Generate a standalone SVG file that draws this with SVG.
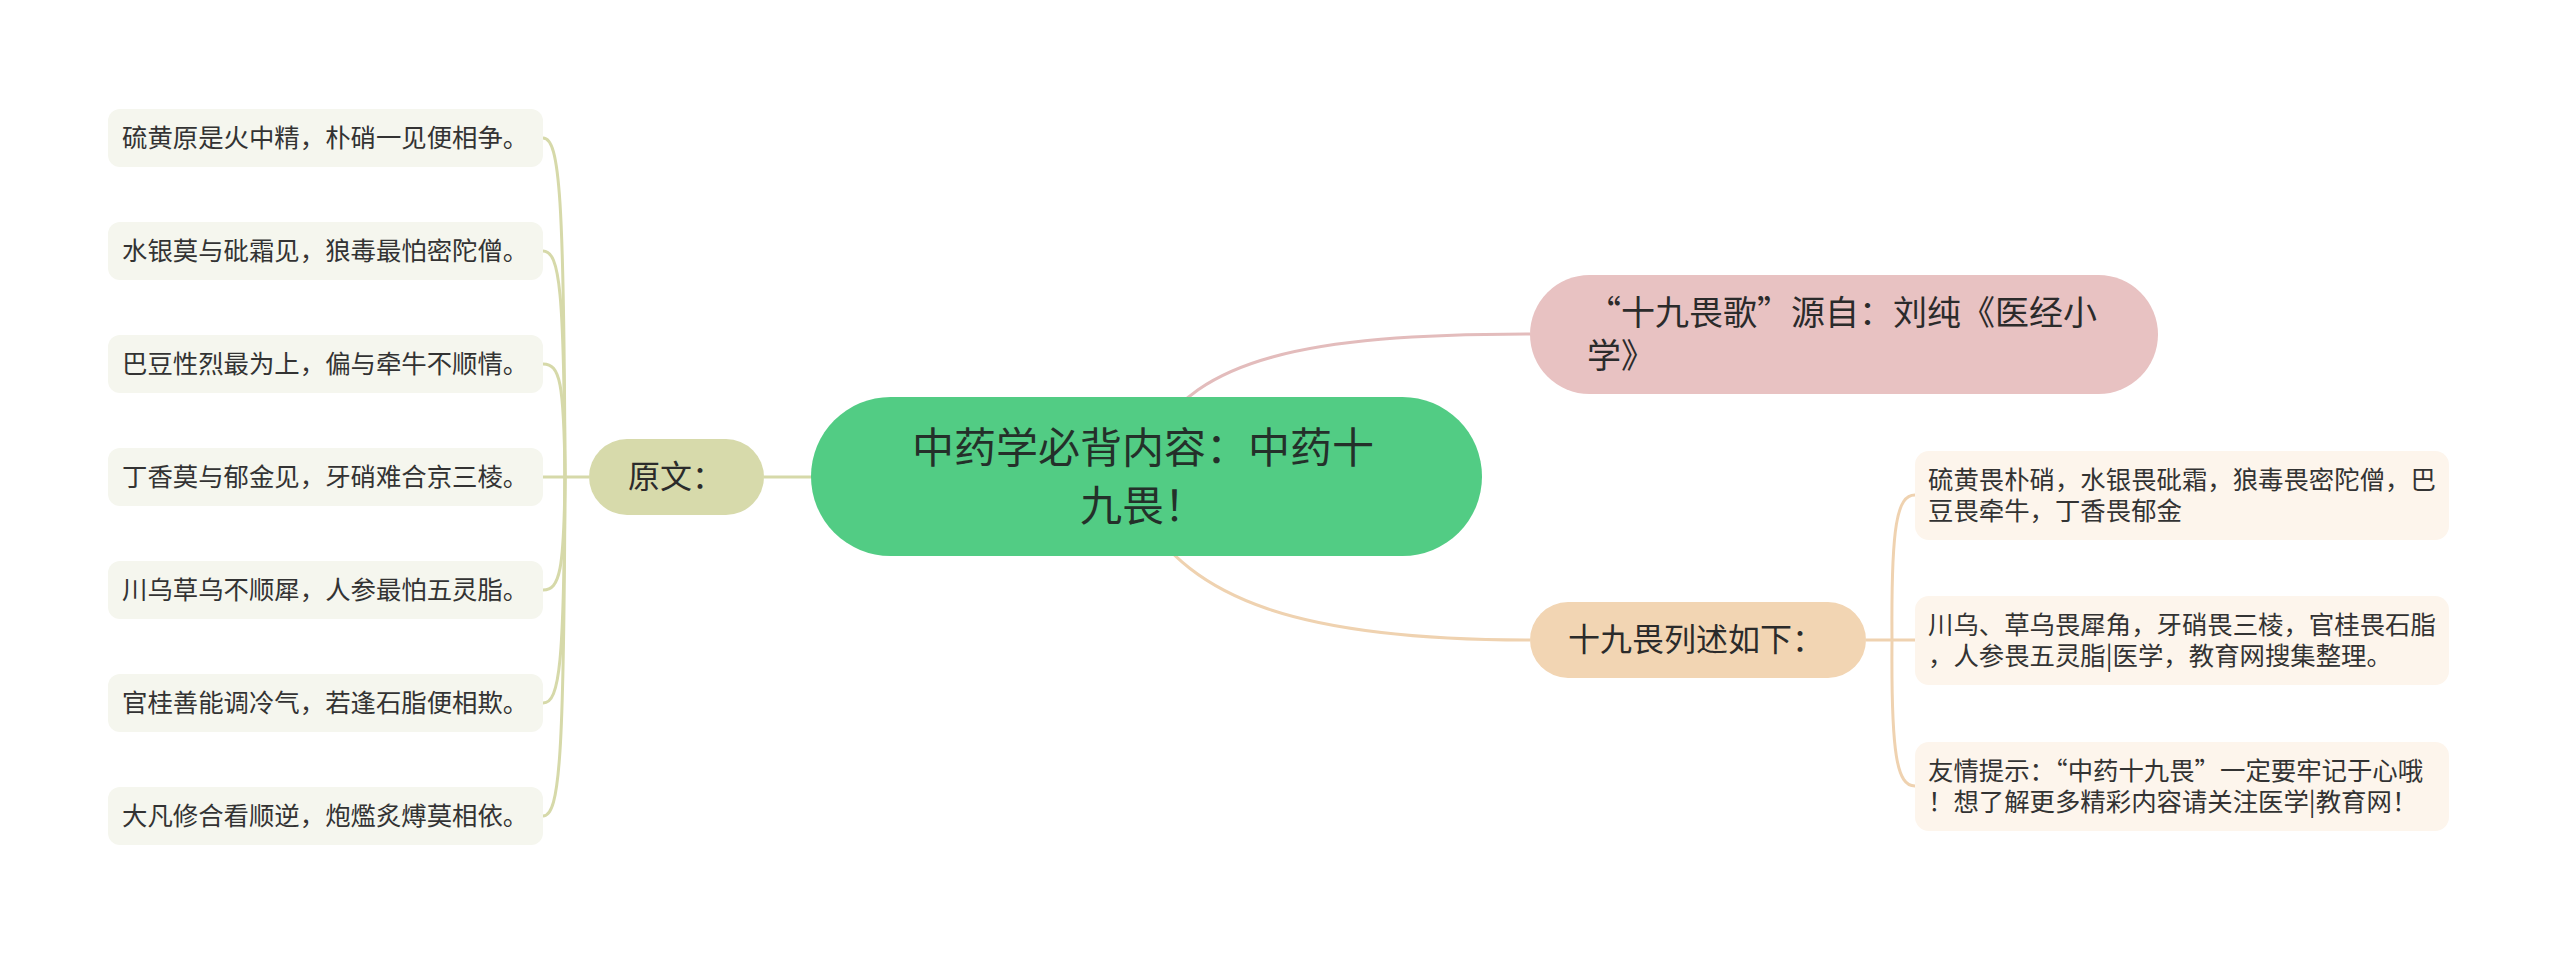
<svg xmlns="http://www.w3.org/2000/svg" width="2560" height="954" viewBox="0 0 2560 954">
<style>
text { font-family: "Noto Sans CJK SC", "Noto Sans", sans-serif; fill: #333333; }
.root rect { fill: #52cc84; }
.root text { font-size: 42px; fill: #24302a; }
.t1 text { font-size: 32px; fill: #2b2b2b; }
.pink rect { fill: #e8c2c2; }
.orange rect { fill: #f2d5b3; }
.olive rect { fill: #d7daab; }
.lleaf rect { fill: #f5f6ee; }
.rleaf rect { fill: #fdf5ec; }
.leaf text { font-size: 25.4px; }
.cg { stroke: #d6d9a9; stroke-width: 3; fill: none; }
.cp { stroke: #e3bcbc; stroke-width: 3; fill: none; }
.co { stroke: #efd2b0; stroke-width: 3; fill: none; }
</style>
<rect width="2560" height="954" fill="#ffffff"/>
<g id="connectors">
  <path class="cp" d="M1150,440 C1200,360 1300,334 1530,334"/>
  <path class="co" d="M1140,510 C1190,600 1300,640 1530,640"/>
  <path class="cg" d="M764,477 H811"/>
  <path class="cg" d="M543,477 H589"/>
  <path class="cg" d="M565,477 C564,199 560,138 543,138"/>
  <path class="cg" d="M565,477 C564,292 560,251 543,251"/>
  <path class="cg" d="M565,477 C564,382 560,364 543,364"/>
  <path class="cg" d="M565,477 C564,570 560,590 543,590"/>
  <path class="cg" d="M565,477 C564,662 560,703 543,703"/>
  <path class="cg" d="M565,477 C564,755 560,816 543,816"/>
  <path class="co" d="M1866,640 H1915"/>
  <path class="co" d="M1892,640 C1891,525 1897,495 1915,495"/>
  <path class="co" d="M1892,640 C1891,755 1897,786 1915,786"/>
</g>
<g id="root" class="root">
  <rect x="811" y="397" width="671" height="159" rx="79.5"/>
  <text text-anchor="middle"><tspan x="1143" y="463">中药学必背内容：中药十</tspan><tspan x="1143" y="521">九畏！</tspan></text>
</g>
<g id="n-source" class="t1 pink">
  <rect x="1530" y="275" width="628" height="119" rx="59.5"/>
  <text style="font-size:34px"><tspan x="1587" y="325">“十九畏歌”源自：刘纯《医经小</tspan><tspan x="1587" y="368">学》</tspan></text>
</g>
<g id="n-list" class="t1 orange">
  <rect x="1530" y="602" width="336" height="76" rx="38"/>
  <text x="1568" y="651">十九畏列述如下：</text>
</g>
<g id="n-yuanwen" class="t1 olive">
  <rect x="589" y="439" width="175" height="76" rx="38"/>
  <text x="628" y="488">原文：</text>
</g>
<g id="l1" class="leaf lleaf"><rect x="108" y="109" width="435" height="58" rx="12"/><text x="122" y="147">硫黄原是火中精，朴硝一见便相争。</text></g>
<g id="l2" class="leaf lleaf"><rect x="108" y="222" width="435" height="58" rx="12"/><text x="122" y="260">水银莫与砒霜见，狼毒最怕密陀僧。</text></g>
<g id="l3" class="leaf lleaf"><rect x="108" y="335" width="435" height="58" rx="12"/><text x="122" y="373">巴豆性烈最为上，偏与牵牛不顺情。</text></g>
<g id="l4" class="leaf lleaf"><rect x="108" y="448" width="435" height="58" rx="12"/><text x="122" y="486">丁香莫与郁金见，牙硝难合京三棱。</text></g>
<g id="l5" class="leaf lleaf"><rect x="108" y="561" width="435" height="58" rx="12"/><text x="122" y="599">川乌草乌不顺犀，人参最怕五灵脂。</text></g>
<g id="l6" class="leaf lleaf"><rect x="108" y="674" width="435" height="58" rx="12"/><text x="122" y="712">官桂善能调冷气，若逢石脂便相欺。</text></g>
<g id="l7" class="leaf lleaf"><rect x="108" y="787" width="435" height="58" rx="12"/><text x="122" y="825">大凡修合看顺逆，炮爁炙煿莫相依。</text></g>
<g id="r1" class="leaf rleaf"><rect x="1915" y="451" width="534" height="89" rx="14"/><text><tspan x="1928" y="489">硫黄畏朴硝，水银畏砒霜，狼毒畏密陀僧，巴</tspan><tspan x="1928" y="520">豆畏牵牛，丁香畏郁金</tspan></text></g>
<g id="r2" class="leaf rleaf"><rect x="1915" y="596" width="534" height="89" rx="14"/><text><tspan x="1928" y="634">川乌、草乌畏犀角，牙硝畏三棱，官桂畏石脂</tspan><tspan x="1928" y="665">，人参畏五灵脂|医学，教育网搜集整理。</tspan></text></g>
<g id="r3" class="leaf rleaf"><rect x="1915" y="742" width="534" height="89" rx="14"/><text><tspan x="1928" y="780">友情提示：“中药十九畏”一定要牢记于心哦</tspan><tspan x="1928" y="811">！想了解更多精彩内容请关注医学|教育网！</tspan></text></g>
</svg>
